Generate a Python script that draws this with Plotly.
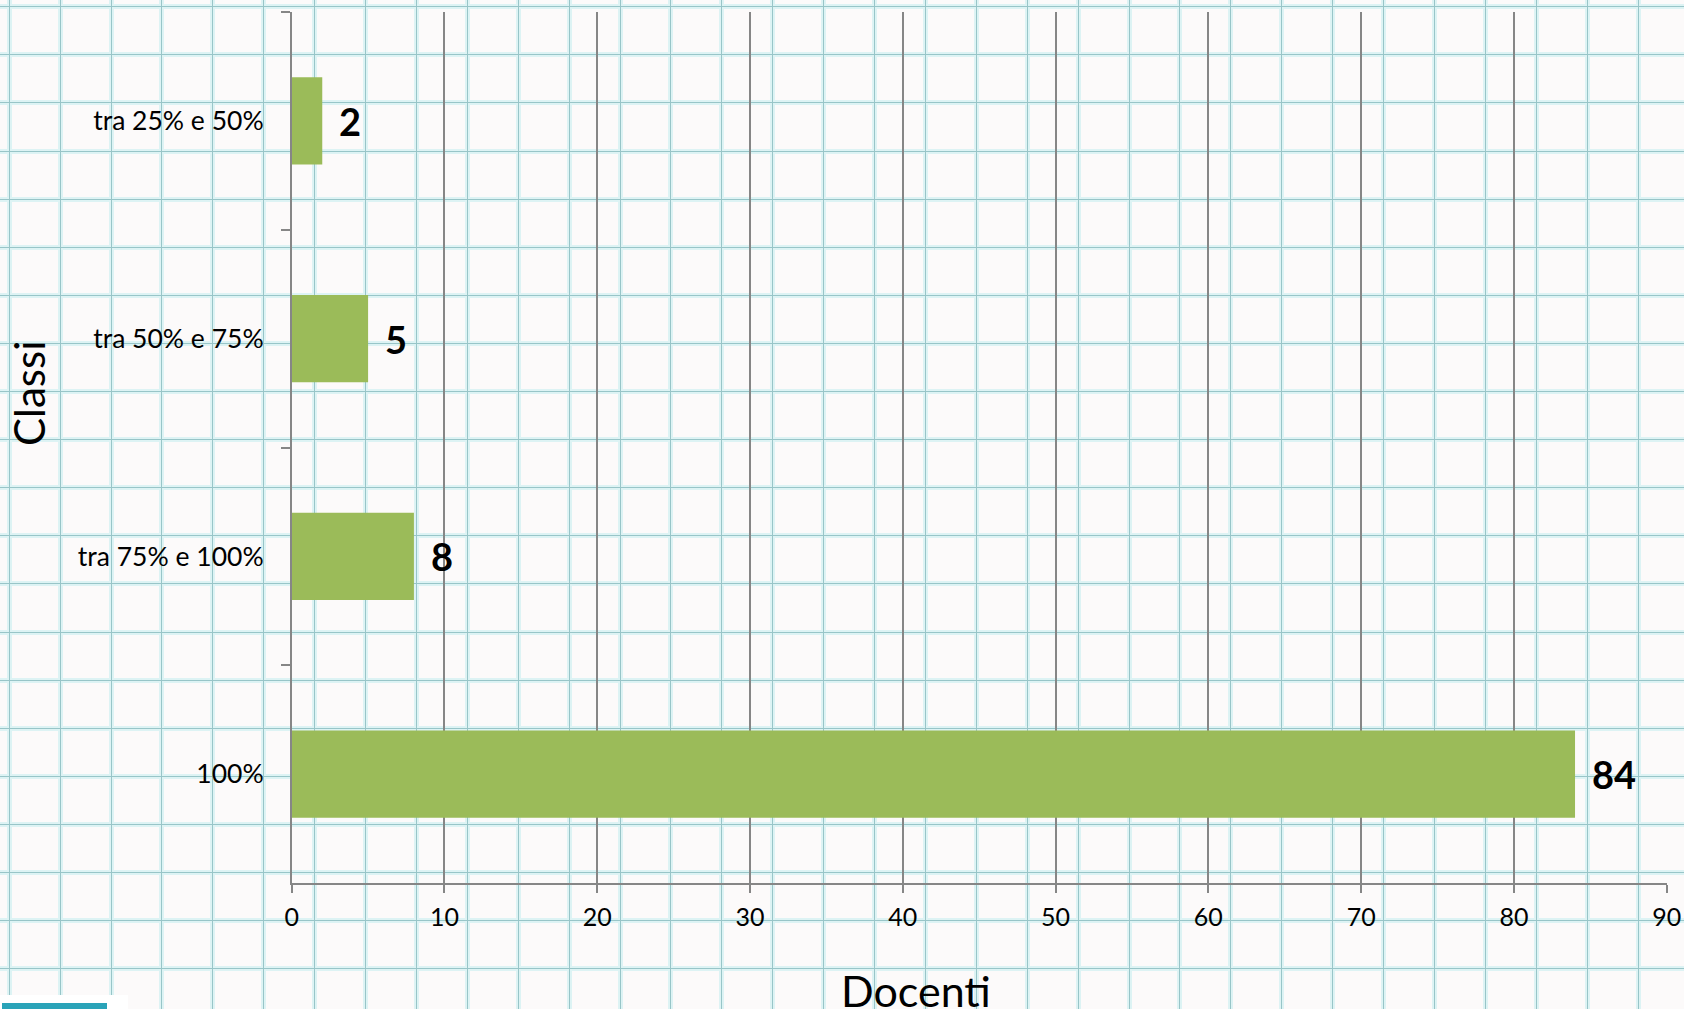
import plotly.graph_objects as go

# ---- data ----
categories = ["tra 25% e 50%", "tra 50% e 75%", "tra 75% e 100%", "100%"]
values = [2, 5, 8, 84]
x_ticks = [0, 10, 20, 30, 40, 50, 60, 70, 80, 90]
x_title = "Docenti"
y_title = "Classi"

W, H = 1684, 1009
BAR = "#9bbb59"
AX = "#868686"
FONT = "Lato"

fig = go.Figure()

# background "graph paper" subplots (decoration): halo layer and core layer
fig.add_trace(go.Scatter(x=[], y=[], xaxis="x", yaxis="y", showlegend=False, hoverinfo="skip"))
fig.add_trace(go.Scatter(x=[], y=[], xaxis="x2", yaxis="y2", showlegend=False, hoverinfo="skip"))

# data
fig.add_trace(go.Bar(
    x=values, y=categories, orientation="h",
    marker=dict(color=BAR, line=dict(width=0)),
    xaxis="x3", yaxis="y3", showlegend=False,
))

bg_axis_common = dict(domain=[0, 1], showticklabels=False, zeroline=False,
                      showline=False, ticks="", fixedrange=True, automargin=False)

fig.update_layout(
    width=W, height=H,
    margin=dict(l=0, r=0, t=0, b=0, pad=0),
    paper_bgcolor="#fcfafa",
    plot_bgcolor="rgba(0,0,0,0)",
    bargap=0.6,
    font=dict(family=FONT, color="black"),
    xaxis=dict(range=[0, W], tick0=111, dtick=50.9, showgrid=True,
               gridcolor="#ddf3f4", gridwidth=4.5, **bg_axis_common),
    yaxis=dict(range=[H, 0], tick0=6.7, dtick=48.1, showgrid=True,
               gridcolor="#ddf3f4", gridwidth=4.5, anchor="x", **bg_axis_common),
    xaxis2=dict(range=[0, W], tick0=111, dtick=50.9, showgrid=True,
                gridcolor="#98c5c8", gridwidth=1.4, anchor="y2", overlaying="x", **bg_axis_common),
    yaxis2=dict(range=[H, 0], tick0=6.7, dtick=48.1, showgrid=True,
                gridcolor="#98c5c8", gridwidth=1.4, anchor="x2", overlaying="y", **bg_axis_common),
    xaxis3=dict(
        domain=[291.7 / W, 1666.7 / W], anchor="y3",
        range=[0, 90], tickvals=x_ticks, ticktext=[str(v) for v in x_ticks],
        showgrid=True, gridcolor=AX, gridwidth=1.5,
        showline=True, linecolor=AX, linewidth=1.5,
        ticks="outside", ticklen=8, tickcolor=AX, tickwidth=1.5,
        ticklabelstandoff=3, automargin=False,
        zeroline=False, tickfont=dict(family=FONT, size=25, color="black"),
        fixedrange=True,
    ),
    yaxis3=dict(
        domain=[1 - 883 / H, 1 - 12 / H], anchor="x3",
        categoryorder="array", categoryarray=categories, autorange="reversed",
        showline=True, linecolor=AX, linewidth=1.5,
        ticks="outside", ticklen=9, tickcolor=AX, tickwidth=1.5,
        tickson="boundaries", showgrid=False, zeroline=False,
        ticklabelstandoff=21, automargin=False,
        tickfont=dict(family=FONT, size=26.5, color="black"),
        fixedrange=True,
    ),
)

# value labels
for c, v in zip(categories, values):
    fig.add_annotation(x=v, y=c, xref="x3", yref="y3", text=f"<b>{v}</b>",
                       showarrow=False, xanchor="left", yanchor="middle",
                       xshift=15, yshift=0,
                       font=dict(family=FONT, size=38, color="black"))

# axis titles
fig.add_annotation(x=916 / W, y=1 - 990 / H, xref="paper", yref="paper", text=x_title,
                   showarrow=False, xanchor="center", yanchor="middle",
                   font=dict(family=FONT, size=43, color="black"))
fig.add_annotation(x=29 / W, y=1 - 393 / H, xref="paper", yref="paper", text=y_title,
                   showarrow=False, xanchor="center", yanchor="middle", textangle=-90,
                   font=dict(family=FONT, size=42, color="black"))

# small corner decoration of the background picture
fig.add_shape(type="rect", xref="paper", yref="paper", x0=0, x1=128 / W, y0=0, y1=14 / H,
              fillcolor="white", line=dict(width=0), layer="above")
fig.add_shape(type="rect", xref="paper", yref="paper", x0=2 / W, x1=107 / W, y0=0, y1=6 / H,
              fillcolor="#2aa3b8", line=dict(width=0), layer="above")

fig.write_html(
    "out.html",
    config={"displayModeBar": False},
    post_script="document.body.style.margin='0';document.body.style.overflow='hidden';",
)
